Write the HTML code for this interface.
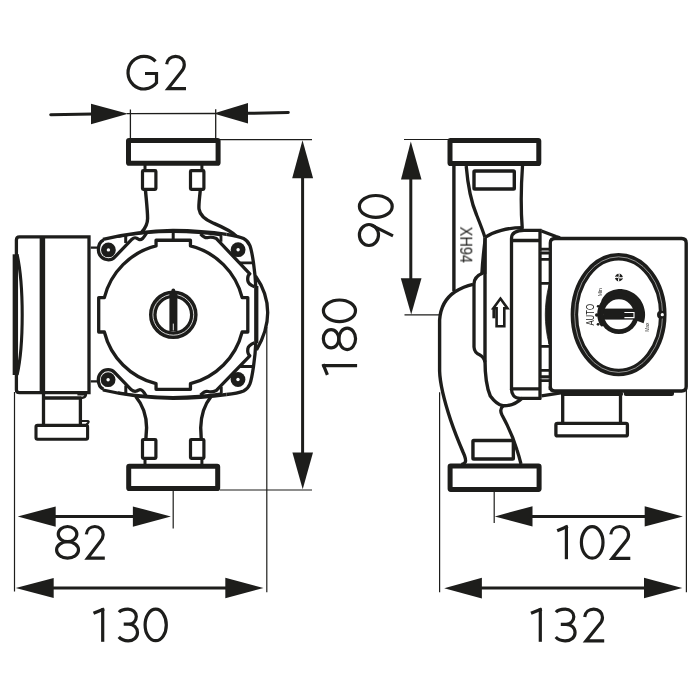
<!DOCTYPE html>
<html><head><meta charset="utf-8"><title>Pump dimensions</title>
<style>
html,body{margin:0;padding:0;background:#fff;width:700px;height:700px;overflow:hidden}
svg{display:block}
text{font-family:"Liberation Sans",sans-serif;fill:#1d1d1b}
</style></head>
<body>
<svg width="700" height="700" viewBox="0 0 700 700">
<g fill="none" stroke="#1d1d1b" stroke-linejoin="round">

<!-- ===== LEFT VIEW: G2 dimension ===== -->
<path d="M50.7 114.8 L93 114.1" stroke-width="3" stroke-linecap="round"/>
<polygon points="91,103.8 128,113.8 91,124.3" fill="#1d1d1b" stroke="none"/>
<line x1="127" y1="113.7" x2="215" y2="113.5" stroke-width="1.3"/>
<polygon points="248,103.1 213.6,113.6 248,123.6" fill="#1d1d1b" stroke="none"/>
<path d="M246 113.3 L288.3 112.6" stroke-width="3" stroke-linecap="round"/>
<line x1="130.4" y1="109.5" x2="130.4" y2="139" stroke-width="1.3"/>
<line x1="215.7" y1="109.3" x2="215.7" y2="139" stroke-width="1.3"/>

<!-- top flange -->
<rect x="128.5" y="140.5" width="89.6" height="22.8" rx="0.6" stroke-width="5" stroke-linejoin="bevel"/>
<!-- top nubs -->
<rect x="142.5" y="170.7" width="13.4" height="18.6" rx="0.8" stroke-width="3.2"/>
<rect x="190.5" y="170.7" width="13.4" height="18.6" rx="0.8" stroke-width="3.2"/>
<path d="M145 165 V170 M201.9 165 V170" stroke-width="3"/>
<!-- top pipe walls -->
<path d="M145.5 190.5 C146.3 200 147.6 211 147.6 218.5 C147.6 224 145.5 228 141.5 232.5" stroke-width="3.4"/>
<path d="M200.2 190.8 C199.6 198 198.5 205 199 209 C200 216 206 220 213 223 C220 226 230 230 236 236" stroke-width="3.4"/>

<!-- bottom flange -->
<rect x="128.7" y="466.2" width="89" height="22.4" rx="0.6" stroke-width="5" stroke-linejoin="bevel"/>
<rect x="142.5" y="439.5" width="13.4" height="18.9" rx="0.8" stroke-width="3.2"/>
<rect x="190.5" y="439.5" width="13.4" height="18.9" rx="0.8" stroke-width="3.2"/>
<path d="M145 459 V464.5 M201.9 459 V464.5" stroke-width="3"/>
<path d="M145.9 438.5 L146.6 427.7 C146.5 415 142 404 135.7 396.5" stroke-width="3.4"/>
<path d="M201.2 438.5 L200.7 427.7 C201 415 205 404 211.1 396.5" stroke-width="3.4"/>

<!-- housing top / bottom arcs -->
<path d="M103 239.3 C125 234 150 230.5 173 230.3 C196 230.5 215 232.5 226.4 234.3" stroke-width="3.3"/>
<path d="M103 390 C125 395.2 150 398.2 173 398.4 C196 398.2 215 396.2 226.4 394.5" stroke-width="3.3"/>
<path d="M118 236.7 C135 233.6 155 231.8 173 231.7 C191 231.8 208 233.1 222 235.2" stroke-width="2.6"/>
<path d="M118 392.6 C135 395.8 155 397.1 173 397.2 C191 397.1 208 395.9 222 393.6" stroke-width="2.6"/>
<!-- right housing outline -->
<path d="M226.4 234.3 C234 235.4 240 236.7 243.6 238.5 C246.6 240 248.6 242.4 249.9 245.6 C251.4 249.5 252.5 256 253.5 263 C254.5 270 255.5 279 255.8 287 L255.8 342.6 C255.5 350.6 254.5 359.6 253.5 366.6 C252.5 373.6 251.4 380.1 249.9 384 C248.6 387.2 246.6 389.6 243.6 391.1 C240 392.6 234 393.9 226.4 394.5" stroke-width="3.3"/>
<path d="M257.6 286 L257.6 343" stroke-width="1.6"/>
<path d="M255.5 276 C264 288 267.7 300 267.7 312.5 C267.7 326 263.5 338 256.5 350" stroke-width="3.3"/>

<!-- left bosses -->
<path d="M103.5 240 C99.6 241.8 98.4 245.8 98.4 249.9 C98.4 255.5 102.8 259.8 108.4 259.8 C111 259.8 113 258.9 114.7 257.1 L132 239.2 C135 236.5 137 238 139 239.5 C141.5 240.5 143.5 238 146.6 233" stroke-width="3.3"/>
<path d="M103.5 389.3 C99.6 387.6 98.3 383.6 98.3 379.6 C98.3 374 102.7 369.7 108.2 369.7 C110.8 369.7 112.8 370.6 114.5 372.4 L131.4 389.8 C134.5 392.5 137 391.3 139 389.9 C141.5 388.8 143.5 391.2 146 395.8" stroke-width="3.3"/>
<path d="M125.7 235.5 V243 M125.8 385.5 V393.6 M173.2 232.5 V239.5" stroke-width="3"/>
<path d="M90.7 247.6 H97.5 M90.7 381.3 H97.5" stroke-width="2.2"/>

<!-- right diagonals -->
<path d="M200.5 233.8 C203 236.5 205 238.5 208 237.5 C211 236.5 213 237 216.4 238.6 L249.8 273.8 C247.6 275.5 247.4 278 247.9 281 C248.3 283.5 250 285 254.5 286.8" stroke-width="3.3"/>
<path d="M200.5 395.2 C203 392.5 205 390.5 208 391.5 C211 392.5 213 392 216.4 390.4 L249.8 355.8 C247.6 354.1 247.4 351.6 247.9 348.6 C248.3 346.1 250 344.6 254.5 342.8" stroke-width="3.3"/>
<path d="M221 235.7 V241.8 M239.3 262.9 H253 M221.3 393.3 V386.8 M239.3 366.5 H253" stroke-width="2.8"/>

<!-- notched circle -->
<path d="M156.05 240.25 L190.45 240.25 L190.45 245.91 A71 71 0 0 1 242.14 297.60 L247.80 297.60 L247.80 332.00 L242.14 332.00 A71 71 0 0 1 190.45 383.69 L190.45 389.35 L156.05 389.35 L156.05 383.69 A71 71 0 0 1 104.36 332.00 L98.70 332.00 L98.70 297.60 L104.36 297.60 A71 71 0 0 1 156.05 245.91 Z" stroke-width="3.3"/>

<!-- knob -->
<circle cx="173.3" cy="314.8" r="20.5" stroke-width="7.6"/>
<circle cx="173.3" cy="314.8" r="20.4" stroke="#fff" stroke-width="0.8"/>
<rect x="169.4" y="292" width="8" height="39.3" fill="#1d1d1b" stroke="none"/>
<circle cx="173.3" cy="290.4" r="1.9" fill="#1d1d1b" stroke="none"/>
<line x1="173.3" y1="323.6" x2="173.3" y2="330.4" stroke="#fff" stroke-width="0.9"/>

<!-- screws -->
<g fill="#1d1d1b" stroke="none">
<circle cx="108.4" cy="249.9" r="7.4"/><circle cx="238.1" cy="249.7" r="7.4"/>
<circle cx="108.1" cy="379.7" r="7.4"/><circle cx="238" cy="379.5" r="7.4"/>
</g>
<g fill="#fff" stroke="none">
<circle cx="108.4" cy="249.9" r="1.7"/><circle cx="238.1" cy="249.7" r="1.7"/>
<circle cx="108.1" cy="379.7" r="1.7"/><circle cx="238" cy="379.5" r="1.7"/>
</g>

<!-- left terminal box -->
<path d="M89 236.9 H19.5 Q16.4 236.9 16.4 240 V389.7 Q16.4 392.6 19.5 392.6 H89 Z" stroke-width="3.3" stroke-linejoin="miter"/>
<line x1="42.4" y1="236.9" x2="42.4" y2="392.6" stroke-width="5.5"/>
<line x1="14.3" y1="254.3" x2="14.3" y2="375" stroke-width="3.3"/>
<path d="M17.1 254.3 C20.5 270 22.2 290 22.2 315 C22.2 340 20.5 360 17.1 375" stroke-width="3.1"/>
<!-- gland -->
<path d="M43.5 392 V425 M43.5 398 H80.4 V425" stroke-width="3.3"/>
<path d="M77.4 394.2 H85 Q86.6 394.2 85.5 396 Q84.5 398 80 398" stroke-width="2.4"/>
<rect x="36" y="425.4" width="51.6" height="13.9" rx="1.5" stroke-width="3.1"/>
<path d="M81.5 421 H87.5 Q89.5 421 88 423 L86.5 424.5" stroke-width="2.2"/>

<!-- dimension 180 -->
<line x1="220" y1="139.6" x2="312" y2="139.6" stroke-width="1.2"/>
<line x1="219.7" y1="490" x2="312" y2="490" stroke-width="1.2"/>
<line x1="302.6" y1="175" x2="302.6" y2="455" stroke-width="3"/>
<polygon points="302.5,140.2 313.1,178.3 292.2,178.3" fill="#1d1d1b" stroke="none"/>
<polygon points="302.7,489.2 313,452.4 292.4,452.4" fill="#1d1d1b" stroke="none"/>

<!-- dimension 82 and 130 -->
<line x1="14.5" y1="392" x2="14.5" y2="591.5" stroke-width="1.2"/>
<line x1="173.2" y1="491" x2="173.2" y2="528.6" stroke-width="1.2"/>
<line x1="266.8" y1="327" x2="266.8" y2="592.2" stroke-width="1.2"/>
<line x1="54" y1="516.5" x2="134" y2="516.5" stroke-width="3"/>
<polygon points="17.7,516.5 55.7,506.4 55.7,526.8" fill="#1d1d1b" stroke="none"/>
<polygon points="170.9,516.5 132.9,506.4 132.9,526.8" fill="#1d1d1b" stroke="none"/>
<line x1="52" y1="588" x2="227" y2="588" stroke-width="3"/>
<polygon points="15.7,588 53.7,577.9 53.7,598.1" fill="#1d1d1b" stroke="none"/>
<polygon points="263.5,588 225.3,577.8 225.3,598.2" fill="#1d1d1b" stroke="none"/>

<!-- ===== RIGHT VIEW ===== -->
<!-- flanges -->
<rect x="450" y="140.5" width="88.8" height="23" rx="0.6" stroke-width="5" stroke-linejoin="bevel"/>
<rect x="450.1" y="466.1" width="89" height="23.3" rx="0.6" stroke-width="5" stroke-linejoin="bevel"/>
<!-- nub rects -->
<rect x="474" y="171" width="40.3" height="18" rx="0.8" stroke-width="3.4"/>
<rect x="472.95" y="440.45" width="40.4" height="18.5" rx="0.8" stroke-width="3.4"/>
<!-- pipe walls -->
<line x1="453.9" y1="165" x2="453.9" y2="291" stroke-width="3.4"/>
<path d="M466.2 166 C467.8 185 471.5 203 476.6 215 C479.8 223 483 231 485 237.5" stroke-width="3.3"/>
<path d="M522.5 166 C520.8 190 520.8 210 522.3 229" stroke-width="3.3"/>
<path d="M485 237.5 C493 231.5 508 227.6 522.3 227.6" stroke-width="3.3"/>
<!-- motor housing left line -->
<path d="M483.6 238 L486.6 238 L486.4 274 L480.2 274 C480.8 262 482.2 250 483.6 238 Z" fill="#1d1d1b" stroke="none"/>
<path d="M485 237.5 C485 280 485 330 485 360 C485 375 486 386 490.3 396 C494 401 498 405 503 405.8 C510 406 517 403 522.4 397.9" stroke-width="3.4"/>
<path d="M503 406 C500 408.5 500.5 412 502 415 C508 426 514 440 517 450 C519 456 520 460 521 464" stroke-width="3.3"/>
<!-- volute -->
<path d="M473 284.3 C467 285.6 460 288.6 455 291.8 C446.5 297.5 440.5 307 439.6 320 L439.6 371 C440 385 444 400 450.6 420 C455 433 460 445 463 452 C465.3 457 466.3 460 465.3 462 C464.6 463.3 463 464 461.5 464.5" stroke-width="3.4"/>
<path d="M483 273 C478 275 474 278 474 284 L474 347 C474.3 351.5 476.5 353.5 479.5 354.8 C482 356 484 358 485 362" stroke-width="3.3"/>
<!-- front plate -->
<path d="M511.5 390 V238.5 C511.5 233.5 515.5 230.3 524 230.3 H541.5" stroke-width="3.3"/>
<path d="M511.5 389 C511.5 394 514 398.3 520 398.3 H541" stroke-width="3.3"/>
<path d="M511.5 240.5 H540 M511.5 388.9 H540" stroke-width="3.3"/>
<!-- stator band -->
<line x1="540" y1="229" x2="540" y2="399.5" stroke-width="3.3"/>
<path d="M550.3 390 V243 C550.3 240 552 238.5 555 238.5" stroke-width="3.3"/>
<path d="M541.5 231 L556 236.5 L560 237.8" stroke-width="3.3"/>
<path d="M541.5 395.8 L562.5 392.6" stroke-width="3.3"/>
<path d="M540 249.2 H550 M540 253.2 H550 M540 259.3 H550 M540 283.4 H550 M540 346.4 H550 M540 370.4 H550 M540 376.7 H550 M540 380.6 H550" stroke-width="2.7"/>
<path d="M540 251.3 H550 M540 378.6 H550" stroke="#555" stroke-width="0.6"/>
<path d="M549 285 C546.5 295 545.3 305 545.3 314.5 C545.3 324 546.5 334 549 344 Z" fill="#1d1d1b" stroke-width="0.8"/>
<!-- terminal box -->
<path d="M555 238.5 H681.7 Q686.2 238.5 686.2 243 V386.5 Q686.2 391 681.7 391 H554.8 Q550.3 391 550.3 386.5" stroke-width="3.4"/>
<!-- strip below box -->
<path d="M563 393.9 H621" stroke-width="4.2" stroke-linecap="round"/>
<path d="M623.8 391.5 H674 V394 Q674 396.1 671.9 396.1 H625.9 Q623.8 396.1 623.8 394 Z" fill="#1d1d1b" stroke="none"/>
<!-- stub -->
<path d="M562.7 393 V422.5 M620.5 393 V422.5" stroke-width="3.3"/>
<rect x="555.9" y="423.4" width="71.5" height="12.5" rx="1.5" stroke-width="3.3"/>
<!-- oval panel -->
<ellipse cx="618.6" cy="314.6" rx="44.2" ry="57.9" stroke-width="7.5"/>
<ellipse cx="618.6" cy="314.6" rx="44" ry="57.8" stroke="#fff" stroke-width="0.7" stroke-opacity="0.75"/>
<circle cx="661" cy="314.8" r="4" fill="#1d1d1b" stroke="none"/>
<circle cx="662.3" cy="314.7" r="1.6" fill="#fff" stroke="none"/>
<!-- knob -->
<path d="M600.5 306.9 L600.6 304.5 L601.0 302.1 L601.7 299.7 L603.0 297.5 L604.6 295.5 L606.4 293.6 L608.6 292.1 L610.9 291.0 L613.4 290.1 L616.0 289.5 L618.7 289.1 L621.4 289.1 L624.1 289.5 L626.7 290.1 L629.3 291.0 L631.8 292.2 L634.1 293.6 L636.3 295.3 L638.3 297.2 L640.1 299.3 L641.6 301.7 L642.9 304.2 L643.8 306.8 L644.5 309.5 L645.0 312.2 L645.1 315.0 L644.9 317.8 L644.4 320.6 L643.6 323.3 L636.8 320.8 L601.3 307.2 Z" fill="#1d1d1b" stroke="none"/>
<circle cx="618.9" cy="314.3" r="19.8" fill="#1d1d1b" stroke="none"/>
<circle cx="618.9" cy="314.3" r="15" fill="#fff" stroke="none"/>
<rect x="603.5" y="308.6" width="31" height="11" fill="#1d1d1b" stroke="none"/>
<path d="M624.4 312.5 H634 V317.6 H624.4" stroke="#fff" stroke-width="1.1" stroke-linejoin="miter"/>
<g fill="#1d1d1b" stroke="none">
<circle cx="596.7" cy="315" r="1.7"/><circle cx="598.1" cy="306.3" r="1.3"/><circle cx="598.1" cy="324.3" r="1.4"/>
</g>
<path d="M601.8 303.6 A20.2 20.2 0 0 0 601.8 325" stroke-width="3" stroke-linecap="round"/>
<g>
</g>
<!-- fan icon -->
<g transform="translate(618.9,277.5) rotate(-35)">
<circle r="3.8" fill="#1d1d1b" stroke="none"/>
<g stroke="#fff" stroke-width="1.1" fill="none" stroke-linecap="round">
<path d="M0.4 -0.6 Q2 -1.2 2.6 -4.2"/><path d="M0.6 0.4 Q1.2 2 4.2 2.6"/><path d="M-0.4 0.6 Q-2 1.2 -2.6 4.2"/><path d="M-0.6 -0.4 Q-1.2 -2 -4.2 -2.6"/>
</g>
</g>
<!-- flow arrow -->
<path d="M500.4 298.6 L507.4 308.3 H504.3 V326.3 H496.6 V308.3 H493.4 Z" stroke-width="2.6" stroke-linejoin="miter"/>
<rect x="492.4" y="309" width="3" height="9.3" fill="#1d1d1b" stroke="none"/>

<!-- dimension 90 -->
<line x1="404" y1="139.5" x2="448" y2="139.5" stroke-width="1.2"/>
<line x1="404.5" y1="314.8" x2="439.5" y2="314.8" stroke-width="1.2"/>
<line x1="410.8" y1="175" x2="410.8" y2="282" stroke-width="3"/>
<polygon points="410.8,141.6 421.5,179.4 401,179.4" fill="#1d1d1b" stroke="none"/>
<polygon points="411.2,314.5 421.5,278.3 400.8,278.3" fill="#1d1d1b" stroke="none"/>

<!-- dimension 102 / 132 -->
<line x1="439.6" y1="392.3" x2="439.6" y2="592.2" stroke-width="1.2"/>
<line x1="494.2" y1="492" x2="494.2" y2="523" stroke-width="1.2"/>
<line x1="686.4" y1="389" x2="686.4" y2="592.2" stroke-width="1.2"/>
<line x1="530" y1="516.5" x2="647" y2="516.5" stroke-width="3"/>
<polygon points="494.8,516.4 532.5,506.2 532.5,526.6" fill="#1d1d1b" stroke="none"/>
<polygon points="682.9,516.4 644.7,506.3 644.7,526.6" fill="#1d1d1b" stroke="none"/>
<line x1="480" y1="588" x2="646" y2="588" stroke-width="3"/>
<polygon points="444.2,588.2 481.9,577.7 481.9,598.5" fill="#1d1d1b" stroke="none"/>
<polygon points="682.3,588 644,577.8 644,598.2" fill="#1d1d1b" stroke="none"/>

</g>

<!-- texts right view -->
<g opacity="0.999">
<text transform="translate(460.3,226.6) rotate(90)" font-size="16" textLength="36.4" lengthAdjust="spacingAndGlyphs">XH94</text>
<text transform="translate(593.8,325.6) rotate(-90)" font-size="10.2" textLength="21.6" lengthAdjust="spacingAndGlyphs">AUTO</text>
<text transform="translate(601.7,296.3) rotate(-90)" font-size="6.2" textLength="8" lengthAdjust="spacingAndGlyphs">Min</text>
<text transform="translate(649.1,331.7) rotate(-90)" font-size="6.2" textLength="9.1" lengthAdjust="spacingAndGlyphs">Max</text>
</g>

<!--GLYPHS-->
<g fill="none" stroke="#1d1d1b" stroke-width="3.2">
<path d="M155.51 61.29 A16.00 16.35 0 1 0 156.50 82.86 V73.50 H145.00" stroke-linecap="butt" stroke-linejoin="miter"/><path d="M166.70 64.28 C167.20 59.44 171.00 56.31 175.60 56.31 C180.60 56.31 184.30 59.84 184.30 64.68 C184.30 67.51 183.10 69.73 181.10 71.95 L168.00 88.59 H186.00" stroke-linejoin="miter" stroke-linecap="butt"/>
<ellipse cx="67.55" cy="534.10" rx="9.30" ry="7.60"/><ellipse cx="67.55" cy="549.90" rx="10.95" ry="8.20"/><path d="M86.33 534.29 C86.81 529.55 90.44 526.48 94.85 526.48 C99.63 526.48 103.17 529.94 103.17 534.69 C103.17 537.46 102.02 539.63 100.11 541.81 L87.57 558.12 H104.80" stroke-linejoin="miter" stroke-linecap="butt"/>
<path d="M93.50 613.30 L104.10 608.90" stroke-linecap="butt"/><path d="M102.70 608.30 V641.80" stroke-linecap="butt"/><path d="M119.00 612.20 C120.80 610.00 124.00 609.10 128.00 609.10 C132.70 609.10 136.30 612.30 136.30 616.60 C136.30 621.00 133.10 624.20 128.80 624.20 H123.70 M128.80 624.20 C133.80 624.20 137.50 627.80 137.50 632.50 C137.50 637.30 133.60 640.80 128.20 640.80 C124.30 640.80 121.10 639.50 118.80 636.90" stroke-linecap="butt"/><ellipse cx="155.70" cy="624.95" rx="10.60" ry="15.75"/>
<path d="M557.20 530.70 L567.80 526.30" stroke-linecap="butt"/><path d="M566.40 525.70 V559.20" stroke-linecap="butt"/><ellipse cx="592.20" cy="542.40" rx="10.80" ry="15.80"/><path d="M610.82 534.35 C611.32 529.57 615.16 526.49 619.80 526.49 C624.85 526.49 628.58 529.97 628.58 534.74 C628.58 537.53 627.37 539.72 625.35 541.90 L612.13 558.31 H630.30" stroke-linejoin="miter" stroke-linecap="butt"/>
<path d="M531.00 613.30 L541.70 608.90" stroke-linecap="butt"/><path d="M540.30 608.30 V641.80" stroke-linecap="butt"/><path d="M555.94 612.30 C557.80 610.10 561.10 609.20 565.24 609.20 C570.09 609.20 573.81 612.40 573.81 616.70 C573.81 621.10 570.51 624.30 566.06 624.30 H560.79 M566.06 624.30 C571.23 624.30 575.05 627.90 575.05 632.60 C575.05 637.40 571.02 640.90 565.44 640.90 C561.41 640.90 558.11 639.60 555.73 637.00" stroke-linecap="butt"/><path d="M584.72 617.02 C585.22 612.26 589.06 609.19 593.70 609.19 C598.75 609.19 602.48 612.66 602.48 617.42 C602.48 620.19 601.27 622.37 599.25 624.55 L586.03 640.91 H604.20" stroke-linejoin="miter" stroke-linecap="butt"/>
<g transform="translate(321.8,376.4) rotate(-90)"><path d="M1.60 5.60 L12.20 1.20" stroke-linecap="butt"/><path d="M10.80 0.60 V35.30" stroke-linecap="butt"/><ellipse cx="37.60" cy="9.28" rx="9.11" ry="7.75"/><ellipse cx="37.60" cy="25.40" rx="10.73" ry="8.37"/><ellipse cx="65.60" cy="17.65" rx="10.80" ry="16.05"/></g>
<g transform="translate(357.8,247.4) rotate(-90)"><ellipse cx="12.40" cy="11.15" rx="10.50" ry="9.55"/><path d="M22.34 13.62 L11.50 35.20" stroke-linecap="butt"/><ellipse cx="41.00" cy="18.00" rx="10.90" ry="16.40"/></g>
</g>
<!--/GLYPHS-->

</svg>
</body></html>
